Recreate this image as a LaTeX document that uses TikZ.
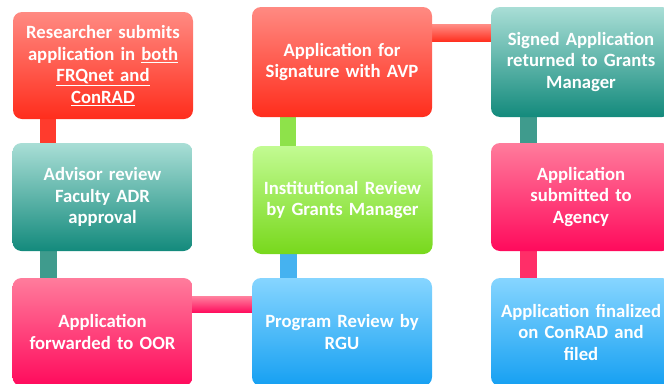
\documentclass[tikz,border=0pt]{standalone}
\usepackage{fontspec}
\setmainfont{Carlito}
\usetikzlibrary{calc,backgrounds}

% palette: light top / dark bottom of each step colour
\definecolor{redT}{HTML}{FF8A82}
\definecolor{redB}{HTML}{FF2D1C}
\definecolor{tealT}{HTML}{A9DED6}
\definecolor{tealB}{HTML}{138A7C}
\definecolor{pinkT}{HTML}{FF7C9C}
\definecolor{pinkB}{HTML}{FF0A5C}
\definecolor{greenT}{HTML}{C2FB92}
\definecolor{greenB}{HTML}{78D81C}
\definecolor{blueT}{HTML}{86D5FF}
\definecolor{blueB}{HTML}{16A0F2}
\definecolor{redBar}{HTML}{FF3B2D}
\definecolor{tealBar}{HTML}{3F9B8D}
\definecolor{greenBar}{HTML}{8EE24A}
\definecolor{blueBar}{HTML}{45B2F0}
\definecolor{pinkBar}{HTML}{FF2E68}

\newcommand{\ul}[1]{\underline{#1}}

\tikzset{
  stepbox/.style={rectangle, rounded corners=9pt, inner sep=0pt,
    minimum width=180pt, minimum height=108pt, text width=176pt,
    align=center, text=white,
    font=\fontsize{18.7}{21.5}\selectfont\bfseries},
  redbox/.style={stepbox, top color=redT, bottom color=redB},
  tealbox/.style={stepbox, top color=tealT, bottom color=tealB},
  pinkbox/.style={stepbox, top color=pinkT, bottom color=pinkB},
  greenbox/.style={stepbox, top color=greenT, bottom color=greenB},
  bluebox/.style={stepbox, top color=blueT, bottom color=blueB},
}

\begin{document}
\begin{tikzpicture}[x=1pt, y=-1pt]
\useasboundingbox (0,0) rectangle (664,383);
\clip (0,0) rectangle (664,383);

% column 1
\node[redbox, minimum height=107pt] (s1) at (103,65.5)
  {Researcher submits\\application in \ul{both}\\\ul{FRQnet and}\\\ul{ConRAD}};
\node[tealbox] (s2) at (102.5,197) {Advisor review\\Faculty ADR\\approval};
\node[pinkbox] (s3) at (102.5,332) {Application\\forwarded to OOR};

% column 2
\node[bluebox] (s4) at (342,332) {Program Review by\\RGU};
\node[greenbox] (s5) at (342.5,200) {Institutional Review\\by Grants Manager};
\node[redbox, minimum height=110pt] (s6) at (342,62) {Application for\\Signature with AVP};

% column 3
\node[tealbox, minimum height=110pt] (s7) at (581,62) {Signed Application\\returned to Grants\\Manager};
\node[pinkbox] (s8) at (581,197) {Application\\submitted to\\Agency};
\node[bluebox] (s9) at (581,332) {Application finalized\\on ConRAD and\\filed};

% connecting bars, behind the boxes
\begin{scope}[on background layer]
  \fill[redBar]   ($(s1.south west)+(27,-1)$) rectangle ($(s2.north west)+(44,1)$);
  \fill[tealBar]  ($(s2.south west)+(27.5,-1)$) rectangle ($(s3.north west)+(44.5,1)$);
  \shade[top color=pinkT, bottom color=pinkB]
        ($(s3.north east)+(-1,19)$) rectangle ($(s4.north west)+(1,35)$);
  \fill[blueBar]  ($(s4.north west)+(28,1)$) rectangle ($(s5.south west)+(45,-1)$);
  \fill[greenBar] ($(s5.north west)+(27.5,1)$) rectangle ($(s6.south west)+(44.5,-1)$);
  \shade[top color=redT, bottom color=redB]
        ($(s6.north east)+(-1,18)$) rectangle ($(s7.north west)+(1,35)$);
  \fill[tealBar]  ($(s7.south west)+(29,-1)$) rectangle ($(s8.north west)+(46,1)$);
  \fill[pinkBar]  ($(s8.south west)+(29,-1)$) rectangle ($(s9.north west)+(46,1)$);
\end{scope}
\end{tikzpicture}
\end{document}
